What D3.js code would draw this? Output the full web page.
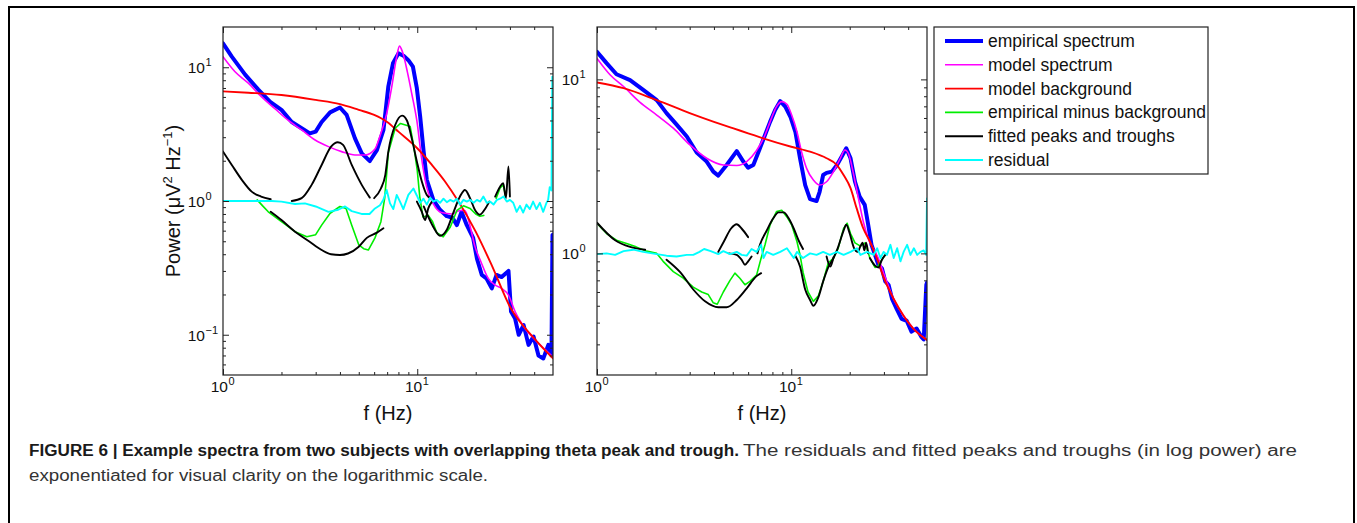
<!DOCTYPE html>
<html>
<head>
<meta charset="utf-8">
<title>Example spectra</title>
<script src="https://d3js.org/d3.v7.min.js"></script>
<style>
    body { margin: 0; background: #fff; overflow: hidden; }
    svg { display: block; font-family: "Liberation Sans", Arial, Helvetica, sans-serif; }
</style>
</head>
<body>
<svg id="fig" width="1357" height="523"></svg>
<script>
// ---- data (frequency in Hz, power in uV^2/Hz) ----
const freqDomain = [1, 50];
const xMajor = [1, 10];
const xMinor = [2, 3, 4, 5, 6, 7, 8, 9, 20, 30, 40];

// left subject
const powerDomainA = [0.05, 20];
const yMajorA = [0.1, 1, 10];
const yMinorA = [0.06, 0.07, 0.08, 0.09, 0.2, 0.3, 0.4, 0.5, 0.6, 0.7, 0.8, 0.9, 2, 3, 4, 5, 6, 7, 8, 9];

const empiricalA = [[1,15.1],[1.11,12.0],[1.3,8.8],[1.52,6.8],[1.75,5.5],[2.0,4.8],[2.26,3.9],[2.54,3.5],[2.8,3.2],[3.0,3.3],
    [3.22,3.9],[3.56,4.6],[4.0,5.0],[4.33,4.4],[4.78,2.94],[5.18,2.27],[5.7,1.99],[6.2,2.4],[6.7,3.4],[7.1,7.2],[7.5,10.7],
    [8.0,12.7],[8.5,12.2],[9.0,11.3],[9.5,10.1],[9.95,7.0],[10.35,4.3],[10.77,2.4],[11.2,1.44],[12.1,1.02],[13.1,0.86],
    [14.2,0.77],[15.2,0.75],[16.0,0.66],[16.9,0.83],[18.0,0.66],[19.4,0.53],[20.3,0.37],[21.5,0.28],[22.7,0.264],[24.2,0.222],
    [25.6,0.28],[27.2,0.27],[29.5,0.30],[30.4,0.149],[31.9,0.132],[33.3,0.10],[35.3,0.118],[37.4,0.084],[39.7,0.097],
    [42.1,0.070],[44.6,0.0665],[47.3,0.084],[49.1,0.07],[49.7,0.557],[50,0.56]];
const modelA = [[1,12.0],[1.15,9.3],[1.35,7.6],[1.58,6.0],[1.85,4.9],[2.17,4.0],[2.54,3.4],[2.98,2.86],[3.49,2.55],[4.08,2.34],
    [4.78,2.21],[5.39,2.21],[6.06,2.45],[6.4,3.0],[6.96,4.5],[7.4,7.2],[7.84,12.0],[8.1,14.4],[8.4,13.0],[8.9,9.2],[9.4,6.2],
    [9.95,4.0],[10.55,2.05],[11.2,1.26],[12.1,0.95],[13.3,0.82],[15.1,0.80],[16.6,0.85],[17.6,0.85],[18.7,0.65],[19.8,0.46],
    [21.3,0.35],[23.2,0.264],[25.2,0.235],[27.2,0.222],[29.5,0.198],[31.9,0.149],[36.0,0.111],[40.6,0.091],[45.7,0.077],[50,0.068]];
const backgroundA = [[1,6.6],[1.35,6.45],[2,6.2],[3,5.7],[4,5.3],[5,4.8],[6,4.4],[7,3.9],[8,3.3],[10,2.48],[11.9,1.86],
    [13.9,1.40],[16.3,0.99],[20,0.59],[24.2,0.33],[30,0.162],[40,0.094],[50,0.0665]];
const minusBgA = [
    [[1.5,1.02],[1.6,0.92],[1.71,0.83],[2.0,0.70],[2.35,0.59],[2.7,0.54],[3.0,0.56],[3.22,0.66],[3.56,0.81],[4.0,0.91],[4.3,0.88],
     [4.6,0.66],[5.0,0.47],[5.3,0.44],[5.6,0.43],[6.06,0.53],[6.5,0.70],[6.8,1.05],[7.1,2.3],[7.7,3.5],[8.2,3.8],[8.7,3.7],
     [9.2,3.6],[9.6,2.55],[10.0,1.7],[10.3,1.08],[10.7,0.76],[11.4,0.78],[12.0,0.7],[12.6,0.58],[13.6,0.54],[14.8,0.64],
     [16.0,0.85],[17.3,0.92],[18.7,0.88],[20.0,0.8],[21.0,0.77],[22.0,0.78]],
    [[25.5,1.05],[26.7,1.25],[27.7,1.32],[28.5,1.1]]
];
const fittedA = [
    [[1,2.34],[1.11,1.86],[1.25,1.44],[1.41,1.17],[1.57,1.08],[1.76,1.03]],
    [[1.76,0.83],[2.0,0.72],[2.35,0.59],[2.77,0.50],[3.22,0.43],[3.6,0.40],[4.0,0.395],[4.4,0.405],[5.0,0.455],[5.5,0.53],[6.2,0.58],[6.7,0.625]],
    [[2.26,1.0],[2.54,1.05],[2.86,1.32],[3.22,1.86],[3.6,2.55],[3.9,2.75],[4.15,2.63],[4.6,1.86],[5.18,1.32],[5.7,1.06]],
    [[6.0,1.05],[6.5,1.24],[6.85,1.57],[7.1,2.34],[7.7,3.7],[8.35,4.35],[8.85,4.0],[9.37,2.94],[9.96,1.97],[10.56,1.4],[11.2,1.11],[11.7,1.05]],
    [[9.96,0.99],[10.56,0.83],[10.97,0.72],[11.4,0.88],[11.9,0.99]],
    [[10.8,0.91],[12.1,0.64],[13.1,0.55],[14.2,0.61],[15.3,0.81],[16.6,1.08],[17.6,1.21],[18.7,1.05],[19.8,0.86],[21.0,0.79],[22.2,0.86],[23.5,0.99]],
    [[25.2,1.08],[26.7,1.28],[27.7,1.36],[28.6,1.05],[29.5,1.81],[30.0,1.08]]
];
const residualA = [[1,1.0],[1.4,1.0],[1.78,1.0],[2.0,0.99],[2.35,0.95],[2.64,0.96],[3.0,0.91],[3.49,0.83],[3.92,0.86],[4.25,0.91],
    [4.6,0.84],[5.17,0.80],[5.68,0.80],[6.06,0.88],[6.43,0.93],[6.69,1.02],[6.96,1.21],[7.24,0.96],[7.53,0.87],[7.84,1.11],
    [8.15,0.99],[8.48,0.87],[9.0,1.11],[9.56,1.24],[9.95,1.1],[10.35,0.97],[10.77,1.04],[11.2,0.94],[11.65,1.06],[12.1,0.99],
    [12.6,1.02],[13.1,0.97],[13.65,1.04],[14.2,0.98],[14.8,1.02],[15.4,0.99],[16.0,1.04],[16.6,0.94],[17.3,1.02],[18.0,0.99],
    [18.7,1.02],[19.5,0.97],[20.3,1.02],[21.1,0.99],[21.9,1.08],[22.8,0.97],[23.7,0.99],[24.7,0.94],[25.7,1.02],[26.7,1.04],
    [27.8,1.08],[28.9,0.99],[30.0,1.02],[31.2,0.97],[32.5,0.83],[33.8,0.92],[35.1,0.82],[36.5,0.94],[38.0,0.87],[39.5,0.99],
    [41.1,0.87],[42.8,0.97],[44.5,0.83],[46.3,0.97],[47.2,1.02],[48.1,1.27],[49.1,1.2],[49.6,8.5],[50,8.5]];

// right subject
const powerDomainB = [0.2, 20];
const yMajorB = [1, 10];
const yMinorB = [0.3, 0.4, 0.5, 0.6, 0.7, 0.8, 0.9, 2, 3, 4, 5, 6, 7, 8, 9];

const empiricalB = [[1,14.4],[1.12,12.4],[1.26,10.7],[1.48,9.9],[1.73,8.7],[2.03,7.6],[2.28,6.4],[2.57,5.5],[2.9,4.7],[3.26,3.8],
    [3.67,3.37],[3.97,2.95],[4.21,2.8],[4.65,3.22],[5.24,3.87],[5.67,3.37],[6.0,3.11],[6.38,3.22],[6.9,4.02],[7.33,4.79],
    [7.78,5.7],[8.26,6.67],[8.78,7.5],[9.32,6.97],[9.9,6.1],[10.5,5.0],[11.1,3.52],[11.8,2.47],[12.5,2.05],[13.5,2.0],[14.0,2.26],
    [14.6,2.82],[15.2,2.9],[16.2,2.95],[17.2,3.22],[18.2,3.6],[19.2,4.02],[20.2,3.52],[21.3,2.58],[22.5,2.12],[23.9,1.90],
    [24.9,1.46],[25.9,1.12],[27.0,0.98],[28.1,0.86],[29.3,0.82],[30.5,0.69],[31.7,0.66],[33.0,0.55],[34.9,0.48],[37.0,0.42],
    [39.3,0.41],[41.6,0.355],[44.2,0.37],[46.9,0.33],[48.1,0.32],[49.6,0.66],[50,0.68]];
const modelB = [[1,13.2],[1.17,10.6],[1.37,9.1],[1.66,7.4],[2.03,6.24],[2.47,5.24],[3.01,4.2],[3.67,3.52],[4.47,3.22],[5.24,3.2],
    [5.9,3.37],[6.63,3.9],[7.33,4.79],[7.78,5.7],[8.4,6.97],[8.93,7.45],[9.5,7.2],[10.05,6.24],[10.7,5.0],[11.3,3.84],[12.0,3.08],
    [13.0,2.64],[14.0,2.47],[15.2,2.58],[16.5,2.95],[17.9,3.52],[18.9,3.93],[19.7,3.75],[20.8,2.95],[22.0,2.17],[23.5,1.52],
    [24.9,1.22],[26.4,1.07],[28.1,0.935],[29.8,0.78],[33.6,0.55],[37.8,0.44],[42.5,0.37],[50,0.318]];
const backgroundB = [[1,9.6],[1.37,8.9],[2.03,7.6],[3,6.4],[4,5.7],[5,5.24],[6,4.9],[7.1,4.6],[10,4.1],[12.5,3.84],[15.2,3.52],
    [17.2,3.22],[18.6,2.82],[20.2,2.37],[21.7,1.82],[23.5,1.39],[25.4,1.17],[27.6,0.935],[30,0.72],[33.6,0.55],[37.8,0.44],
    [42.5,0.37],[50,0.318]];
const minusBgB = [
    [[1,1.49],[1.12,1.30],[1.26,1.19],[1.42,1.14],[1.59,1.09],[1.8,1.03],[2.03,1.0],[2.19,0.9],[2.47,0.785],[2.78,0.72],[3.13,0.64],
     [3.46,0.60],[3.74,0.58],[3.97,0.52],[4.16,0.51],[4.47,0.60],[4.84,0.70],[5.13,0.77],[5.44,0.72],[5.78,0.66],[6.13,0.69],
     [6.63,0.75],[7.0,0.94],[7.33,1.12],[7.78,1.46],[8.4,1.74],[8.93,1.77],[9.5,1.62],[10.05,1.46],[10.7,1.17],[11.1,0.98],
     [11.5,0.78],[12.2,0.60],[13.0,0.53],[13.8,0.57],[14.6,0.69],[15.5,0.88],[16.5,0.94],[17.4,1.06],[18.6,1.39],[19.4,1.49],
     [20.2,1.3],[21.3,1.15],[22.7,1.1],[24.0,1.15],[25.4,0.94],[27.0,0.83],[28.1,0.85],[29.3,0.92],[30.5,0.98]]
];
const fittedB = [
    [[1,1.50],[1.24,1.19],[1.48,1.09],[1.77,1.05]],
    [[2.28,0.92],[2.68,0.78],[3.13,0.62],[3.6,0.53],[4.21,0.49],[4.65,0.49],[5.24,0.54],[5.9,0.63],[6.63,0.74],[7.0,0.77]],
    [[4.21,1.02],[4.5,1.17],[4.9,1.39],[5.24,1.47],[5.55,1.39],[6.0,1.24]],
    [[4.78,1.0],[5.24,0.98],[5.55,0.92],[5.78,0.86],[6.0,0.9],[6.25,0.96]],
    [[6.7,1.0],[6.9,1.12],[7.47,1.35],[8.08,1.59],[8.6,1.72],[9.15,1.72],[9.7,1.59],[10.3,1.39],[10.9,1.19],[11.5,1.06]],
    [[10.5,0.97],[11.1,0.84],[11.8,0.62],[12.5,0.54],[13.0,0.50],[13.8,0.56],[14.6,0.69],[15.5,0.83],[16.5,0.94],[17.4,1.08],
     [18.6,1.35],[19.2,1.46],[20.0,1.30],[21.0,1.08],[22.0,1.02],[22.7,1.1],[23.3,1.15],[23.8,1.04],[24.3,1.15],[24.9,1.0]],
    [[15.2,0.96],[15.9,0.84],[16.5,0.95]],
    [[25.4,0.94],[27.0,0.85],[28.1,0.83],[29.3,0.92],[30.5,0.98]]
];
const residualB = [[1,0.99],[1.12,1.0],[1.24,0.98],[1.37,1.03],[1.54,1.05],[1.73,1.02],[2.03,0.99],[2.28,0.97],[2.57,0.96],[2.9,0.98],
    [3.13,0.98],[3.37,1.02],[3.56,1.06],[3.85,1.03],[4.21,0.99],[4.47,1.03],[4.84,0.99],[5.24,1.02],[5.55,0.98],[5.9,0.97],
    [6.25,1.06],[6.63,1.02],[7.0,1.12],[7.2,0.94],[7.47,1.02],[8.08,0.98],[8.78,1.02],[9.5,1.07],[10.3,0.94],[10.7,1.02],
    [11.5,0.94],[12.5,1.0],[13.5,0.98],[14.6,1.02],[15.8,0.98],[17.2,1.02],[18.6,0.98],[20.2,1.02],[21.8,1.07],[22.7,0.98],
    [24.6,1.02],[26.6,0.98],[27.7,1.07],[28.8,0.94],[29.9,1.02],[31.1,0.98],[32.4,1.12],[33.7,0.94],[35.1,1.07],[36.5,0.90],
    [37.9,1.02],[39.5,1.12],[41.1,0.98],[42.8,1.07],[44.5,0.98],[46.3,1.02],[48.1,1.04],[49.5,0.98],[50,2.07]];

// legend entries, in drawing order
const legendLabels = ['empirical spectrum', 'model spectrum', 'model background',
    'empirical minus background', 'fitted peaks and troughs', 'residual'];
const legendColors = ['#0000ff', '#ff00ff', '#ff0000', '#00ee00', '#000000', '#00ffff'];
const legendWidths = [4, 1.6, 1.9, 1.6, 1.9, 1.9];

// ---- drawing ----
const svg = d3.select('#fig');
svg.append('rect').attr('width', 1357).attr('height', 523).attr('fill', '#fff');

// figure frame
svg.append('rect')
    .attr('x', 9).attr('y', 7).attr('width', 1345).attr('height', 600)
    .attr('fill', 'none').attr('stroke', '#000').attr('stroke-width', 2);

const panels = [
    { id: 'A', left: 223, right: 553, top: 27, bottom: 375, yDomain: powerDomainA, yMajor: yMajorA, yMinor: yMinorA,
      series: [[empiricalA], [modelA], [backgroundA], minusBgA, fittedA, [residualA]] },
    { id: 'B', left: 597, right: 927, top: 27, bottom: 375, yDomain: powerDomainB, yMajor: yMajorB, yMinor: yMinorB,
      series: [[empiricalB], [modelB], [backgroundB], minusBgB, fittedB, [residualB]] }
];

const supText = e => (e < 0 ? '\u2212' + (-e) : '' + e);

panels.forEach(p => {
    const x = d3.scaleLog().domain(freqDomain).range([p.left, p.right]);
    const y = d3.scaleLog().domain(p.yDomain).range([p.bottom, p.top]);
    const g = svg.append('g');

    g.append('clipPath').attr('id', 'clip' + p.id)
        .append('rect')
        .attr('x', p.left).attr('y', p.top)
        .attr('width', p.right - p.left).attr('height', p.bottom - p.top);

    // curves
    const plot = g.append('g').attr('clip-path', `url(#clip${p.id})`);
    p.series.forEach((segs, i) => {
        const smooth = (i === 1 || i === 2 || i === 4);
        const line = d3.line()
            .x(d => x(d[0]))
            .y(d => y(d[1]))
            .curve(smooth ? d3.curveMonotoneX : d3.curveLinear);
        plot.selectAll(null)
            .data(segs)
            .join('path')
            .attr('d', line)
            .attr('fill', 'none')
            .attr('stroke', legendColors[i])
            .attr('stroke-width', legendWidths[i])
            .attr('stroke-linejoin', 'round')
            .attr('stroke-linecap', 'round');
    });

    // ticks on all four sides, pointing in
    const tickAxis = (axis, tr) => {
        const a = g.append('g').attr('transform', tr).call(axis);
        a.select('.domain').remove();
        a.selectAll('line').attr('stroke', '#222').attr('stroke-width', 1);
        a.selectAll('text').remove();
    };
    const h = p.bottom - p.top;
    const w = p.right - p.left;
    tickAxis(d3.axisBottom(x).tickValues(xMajor).tickSize(-6), `translate(0,${p.bottom})`);
    tickAxis(d3.axisBottom(x).tickValues(xMinor).tickSize(-3), `translate(0,${p.bottom})`);
    tickAxis(d3.axisTop(x).tickValues(xMajor).tickSize(-6), `translate(0,${p.top})`);
    tickAxis(d3.axisTop(x).tickValues(xMinor).tickSize(-3), `translate(0,${p.top})`);
    tickAxis(d3.axisLeft(y).tickValues(p.yMajor).tickSize(-6), `translate(${p.left},0)`);
    tickAxis(d3.axisLeft(y).tickValues(p.yMinor).tickSize(-3), `translate(${p.left},0)`);
    tickAxis(d3.axisRight(y).tickValues(p.yMajor).tickSize(-6), `translate(${p.right},0)`);
    tickAxis(d3.axisRight(y).tickValues(p.yMinor).tickSize(-3), `translate(${p.right},0)`);

    g.append('rect')
        .attr('x', p.left).attr('y', p.top).attr('width', w).attr('height', h)
        .attr('fill', 'none').attr('stroke', '#222').attr('stroke-width', 1.2);

    // tick labels 10^n
    xMajor.forEach(v => {
        const e = Math.round(Math.log10(v));
        g.append('text').attr('x', x(v) + 5).attr('y', p.bottom + 17)
            .attr('text-anchor', 'end').attr('font-size', 15.5).attr('fill', '#111').text('10');
        g.append('text').attr('x', x(v) + 5.5).attr('y', p.bottom + 10)
            .attr('font-size', 11).attr('fill', '#111').text(supText(e));
    });
    p.yMajor.forEach(v => {
        const e = Math.round(Math.log10(v));
        g.append('text').attr('x', p.left - 18).attr('y', y(v) + 6)
            .attr('text-anchor', 'end').attr('font-size', 15.5).attr('fill', '#111').text('10');
        g.append('text').attr('x', p.left - 17.5).attr('y', y(v) - 1)
            .attr('font-size', 11).attr('fill', '#111').text(supText(e));
    });

    // x axis title
    g.append('text')
        .attr('x', (p.left + p.right) / 2).attr('y', p.bottom + 45)
        .attr('text-anchor', 'middle').attr('font-size', 20).attr('fill', '#111')
        .text('f (Hz)');
});

// y axis title (left panel only)
const yTitle = svg.append('text')
    .attr('transform', `translate(180,${(27 + 375) / 2}) rotate(-90)`)
    .attr('text-anchor', 'middle').attr('font-size', 20).attr('fill', '#111');
yTitle.append('tspan').text('Power (\u03bcV');
yTitle.append('tspan').attr('font-size', 13).attr('dy', -8).text('2');
yTitle.append('tspan').attr('dy', 8).text(' Hz');
yTitle.append('tspan').attr('font-size', 13).attr('dy', -8).text('\u22121');
yTitle.append('tspan').attr('dy', 8).text(')');

// legend
const legend = svg.append('g');
legend.append('rect')
    .attr('x', 934).attr('y', 27).attr('width', 274).attr('height', 147)
    .attr('fill', '#fff').attr('stroke', '#222').attr('stroke-width', 1.2);
legendLabels.forEach((label, i) => {
    const cy = 41 + i * 23.8;
    legend.append('line')
        .attr('x1', 945).attr('x2', 983).attr('y1', cy).attr('y2', cy)
        .attr('stroke', legendColors[i]).attr('stroke-width', legendWidths[i]);
    legend.append('text')
        .attr('x', 988).attr('y', cy + 6)
        .attr('font-size', 17.5).attr('fill', '#111')
        .text(label);
});

// caption
const capFont = '"Liberation Sans", Arial, sans-serif';
svg.append('text')
    .attr('x', 29).attr('y', 456)
    .attr('font-family', capFont).attr('font-size', 16).attr('font-weight', 'bold').attr('fill', '#1a1a1a')
    .attr('textLength', 710).attr('lengthAdjust', 'spacingAndGlyphs')
    .text('FIGURE 6 | Example spectra from two subjects with overlapping theta peak and trough.');
svg.append('text')
    .attr('x', 743).attr('y', 456)
    .attr('font-family', capFont).attr('font-size', 16).attr('fill', '#333')
    .attr('textLength', 554).attr('lengthAdjust', 'spacingAndGlyphs')
    .text('The residuals and fitted peaks and troughs (in log power) are');
svg.append('text')
    .attr('x', 29).attr('y', 481)
    .attr('font-family', capFont).attr('font-size', 16).attr('fill', '#333')
    .attr('textLength', 459).attr('lengthAdjust', 'spacingAndGlyphs')
    .text('exponentiated for visual clarity on the logarithmic scale.');
</script>
</body>
</html>
